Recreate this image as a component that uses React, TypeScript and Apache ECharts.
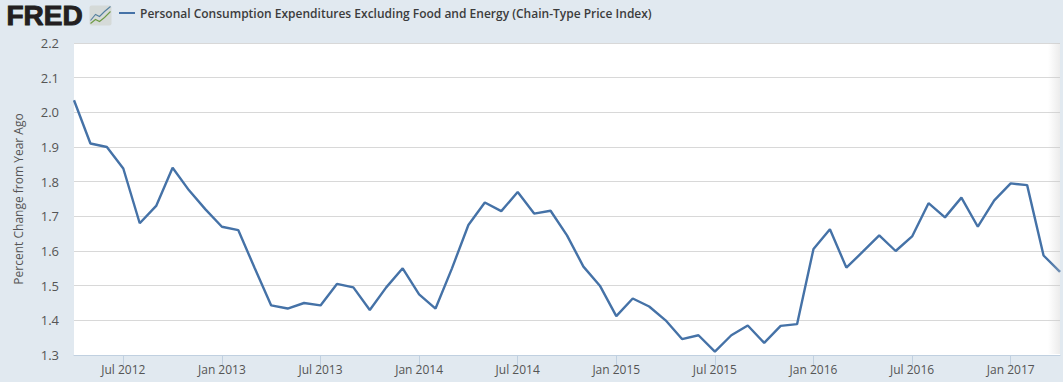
import React, { useEffect, useRef } from "react";
import * as echarts from "echarts";

const SERIES_NAME = "Personal Consumption Expenditures Excluding Food and Energy (Chain-Type Price Index)";
const Y_NAME = "Percent Change from Year Ago";
const MONTHS = ["Jan", "Feb", "Mar", "Apr", "May", "Jun", "Jul", "Aug", "Sep", "Oct", "Nov", "Dec"];
const v2012 = [2.035, 1.91, 1.9, 1.838, 1.68, 1.73, 1.84, 1.775, 1.72];
const v2013 = [1.67, 1.66, 1.55, 1.443, 1.434, 1.45, 1.443, 1.505, 1.495, 1.43, 1.495, 1.55];
const v2014 = [1.475, 1.434, 1.55, 1.675, 1.74, 1.715, 1.77, 1.708, 1.716, 1.645, 1.555, 1.5];
const v2015 = [1.412, 1.463, 1.44, 1.4, 1.346, 1.357, 1.31, 1.357, 1.385, 1.335, 1.384, 1.389];
const v2016 = [1.606, 1.663, 1.552, 1.598, 1.645, 1.6, 1.642, 1.738, 1.697, 1.754, 1.67, 1.746];
const v2017 = [1.795, 1.79, 1.587, 1.54];
const values = [...v2012, ...v2013, ...v2014, ...v2015, ...v2016, ...v2017];
const categories = values.map((_, i) => {
  const m = i + 3;
  return `${MONTHS[m % 12]} ${2012 + Math.floor(m / 12)}`;
});

const isTick = (i: number) => i % 6 === 3;

export default function App() {
  const ref = useRef<HTMLDivElement>(null);
  useEffect(() => {
    const chart = echarts.init(ref.current!, null, { renderer: "svg" });
    chart.setOption({
      animation: false,
      backgroundColor: "#e1e9f0",
      textStyle: { fontFamily: "'Open Sans', sans-serif" },
      grid: { left: 74, right: 3, top: 43, bottom: 27, backgroundColor: "#fff", show: true, borderWidth: 0 },
      legend: {
        left: 114,
        top: 2,
        itemWidth: 16,
        itemHeight: 2,
        icon: "rect",
        itemGap: 0,
        data: [SERIES_NAME],
        textStyle: { color: "#3c3c3c", fontSize: 12, fontWeight: 600, fontFamily: "'Open Sans', sans-serif" },
      },
      xAxis: {
        type: "category",
        data: categories,
        boundaryGap: false,
        axisLine: { lineStyle: { color: "#c0d0e0", width: 1 } },
        axisTick: { interval: (i: number) => isTick(i), length: 10, lineStyle: { color: "#c0d0e0" } },
        axisLabel: {
          interval: (i: number) => isTick(i),
          color: "#555",
          fontSize: 12,
          margin: 8,
          fontFamily: "'Open Sans', sans-serif",
        },
        splitLine: { show: false },
      },
      yAxis: {
        type: "value",
        min: 1.3,
        max: 2.2,
        interval: 0.1,
        name: Y_NAME,
        nameLocation: "middle",
        nameGap: 50,
        nameTextStyle: { color: "#555", fontSize: 12, fontFamily: "'Open Sans', sans-serif" },
        axisLine: { show: false },
        axisTick: { show: false },
        axisLabel: {
          color: "#555",
          fontSize: 13,
          margin: 15,
          formatter: (v: number) => v.toFixed(1),
          fontFamily: "'Open Sans', sans-serif",
        },
        splitLine: { lineStyle: { color: "#d8d8d8", width: 1 } },
      },
      series: [
        {
          name: SERIES_NAME,
          type: "line",
          data: values,
          symbol: "none",
          lineStyle: { color: "#4572a7", width: 2.4 },
          itemStyle: { color: "#4572a7" },
        },
      ],
      graphic: [
        {
          type: "text",
          left: 6,
          top: 1,
          style: {
            text: "FRED",
            fill: "#231f20",
            stroke: "#231f20",
            lineWidth: 1,
            font: "900 28px 'Liberation Sans', sans-serif",
          },
        },
        {
          type: "group",
          left: 88,
          top: 4,
          children: [
            { type: "rect", shape: { x: 0, y: 0, width: 22, height: 20, r: 2 }, style: { fill: "#d5dad8" } },
            { type: "polyline", shape: { points: [[1, 15], [6, 9], [10, 11], [15, 6], [21, 1]] }, style: { fill: "none", stroke: "#55809f", lineWidth: 1.1 } },
            { type: "polyline", shape: { points: [[1, 18], [6, 14], [10, 16], [15, 12], [21, 6]] }, style: { fill: "none", stroke: "#6d9a45", lineWidth: 1.1 } },
          ],
        },
        {
          type: "rect",
          left: 1048,
          top: 43,
          z: 10,
          shape: { width: 12, height: 311 },
          style: {
            fill: new echarts.graphic.LinearGradient(0, 0, 1, 0, [
              { offset: 0, color: "rgba(200,200,200,0)" },
              { offset: 1, color: "rgba(200,200,200,0.35)" },
            ]),
          },
        },
      ],
    });
    return () => chart.dispose();
  }, []);
  return <div ref={ref} style={{ position: "fixed", left: 0, top: 0, width: 1063, height: 382 }} />;
}
